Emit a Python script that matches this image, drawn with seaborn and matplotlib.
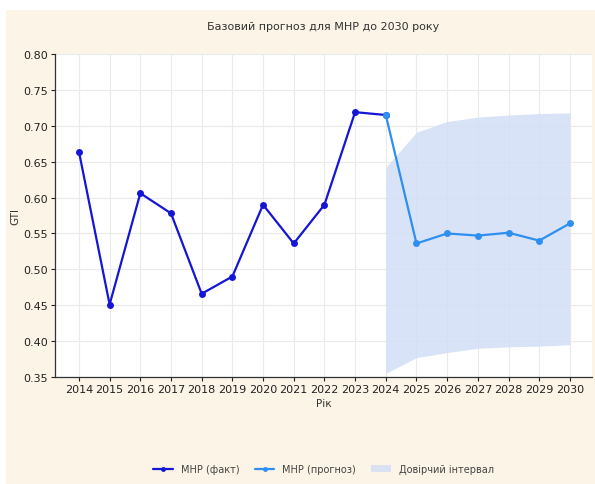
import matplotlib
matplotlib.use("Agg")
import matplotlib.pyplot as plt
from matplotlib.patches import Rectangle
import seaborn as sns
import pandas as pd

# Observed GTI values
fact_years = [2014, 2015, 2016, 2017, 2018, 2019, 2020, 2021, 2022, 2023, 2024]
fact_gti = [0.664, 0.451, 0.606, 0.578, 0.466, 0.490, 0.590, 0.536, 0.590, 0.719, 0.715]

# Forecast with confidence band
fc_years = [2024, 2025, 2026, 2027, 2028, 2029, 2030]
fc_gti = [0.715, 0.536, 0.550, 0.547, 0.551, 0.540, 0.564]
ci_low = [0.355, 0.377, 0.384, 0.390, 0.392, 0.393, 0.395]
ci_high = [0.642, 0.691, 0.706, 0.712, 0.715, 0.717, 0.718]

year_ticks = list(range(2014, 2031))
y_ticks = [0.35, 0.40, 0.45, 0.50, 0.55, 0.60, 0.65, 0.70, 0.75, 0.80]

title = "Базовий прогноз для МНР до 2030 року"
x_label = "Рік"
y_label = "GTI"
lbl_fact = "МНР (факт)"
lbl_fc = "МНР (прогноз)"
lbl_ci = "Довірчий інтервал"

sns.set_style("white")
plt.rcParams["font.family"] = ["DejaVu Sans"]

bg = "#FCF4E6"
fig = plt.figure(figsize=(5.95, 4.85), dpi=100, facecolor="white")
fig.patches.append(Rectangle((6 / 595, 0), 1 - 6 / 595, 1 - 11 / 485,
                             transform=fig.transFigure, facecolor=bg,
                             edgecolor="none", zorder=-10))
ax = fig.add_axes([55 / 595, 1 - 378 / 485, 537 / 595, 323 / 485])
ax.set_facecolor("white")

df_fact = pd.DataFrame({"year": fact_years, "gti": fact_gti})
df_fc = pd.DataFrame({"year": fc_years, "gti": fc_gti,
                      "lo": ci_low, "hi": ci_high})

ax.fill_between(df_fc["year"], df_fc["lo"], df_fc["hi"],
                color="#D3DFF6", alpha=0.85, linewidth=0, label=lbl_ci, zorder=1)
sns.lineplot(data=df_fact, x="year", y="gti", ax=ax, color="#1515D6",
             marker="o", markersize=5, markeredgewidth=0, linewidth=1.6,
             label=lbl_fact, zorder=3)
sns.lineplot(data=df_fc, x="year", y="gti", ax=ax, color="#2E8FF0",
             marker="o", markersize=5, markeredgewidth=0, linewidth=1.6,
             label=lbl_fc, zorder=4)

ax.set_xlim(2013.22, 2030.72)
ax.set_ylim(0.35, 0.80)
ax.set_xticks(year_ticks)
ax.set_yticks(y_ticks)
ax.set_yticklabels([f"{v:.2f}" for v in y_ticks])
ax.grid(True, color="#EAEAEA", linewidth=0.8)
ax.set_axisbelow(True)
for s in ["top", "right"]:
    ax.spines[s].set_visible(False)
for s in ["left", "bottom"]:
    ax.spines[s].set_color("#333333")
    ax.spines[s].set_linewidth(0.9)
ax.tick_params(axis="both", which="major", labelsize=8, colors="#222222",
               length=3, width=0.8, direction="out", pad=2,
               bottom=True, left=True)

ax.set_xlabel(x_label, fontsize=7.5, color="#333333", labelpad=3)
ax.set_ylabel(y_label, fontsize=7.5, color="#333333", labelpad=2)
ax.set_title(title, fontsize=8, color="#333333", pad=18)

handles, labels = ax.get_legend_handles_labels()
order = [labels.index(lbl_fact), labels.index(lbl_fc), labels.index(lbl_ci)]
ax.legend([handles[i] for i in order], [labels[i] for i in order],
          loc="center", bbox_to_anchor=(0.5, -0.285),
          ncol=3, frameon=False, fontsize=7, labelcolor="#444444",
          handlelength=2.0, columnspacing=1.6, markerscale=0.7)

fig.savefig("out.png", dpi=100, facecolor="white")
